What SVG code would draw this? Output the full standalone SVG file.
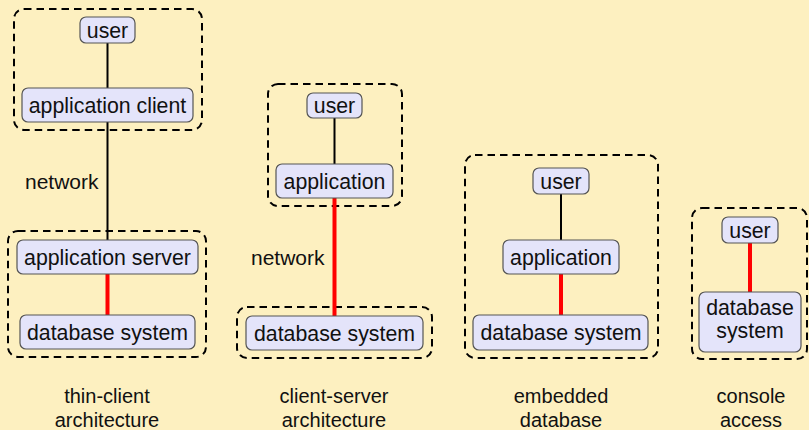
<svg xmlns="http://www.w3.org/2000/svg" width="809" height="430" viewBox="0 0 809 430">
<style>
.bg{fill:#FDF0C0}
.node rect{fill:#E4E4FA;stroke:#555;stroke-width:1.2}
.grp{fill:none;stroke:#000;stroke-width:2;stroke-dasharray:7.5 5}
text{font-family:"Liberation Sans",Arial,Helvetica,sans-serif;fill:#111}
.nt{font-size:21.3px;text-anchor:middle}
.lbl{font-size:21px}
.cap{font-size:20px;text-anchor:middle}
.blk{stroke:#000;stroke-width:2}
.red{stroke:#FF0000;stroke-width:4}
</style>
<rect class="bg" x="0" y="0" width="809" height="430"/>
<g id="groups">
<rect class="grp" x="14" y="9" width="188" height="121" rx="10"/>
<rect class="grp" x="8" y="231" width="198" height="126" rx="10"/>
<rect class="grp" x="268" y="84" width="134" height="122" rx="10"/>
<rect class="grp" x="237" y="307" width="195" height="51" rx="10"/>
<rect class="grp" x="465" y="155" width="193" height="203" rx="10"/>
<rect class="grp" x="692" y="208" width="115" height="151" rx="10"/>
</g>
<g id="connectors">
<line class="blk" x1="107.5" y1="43" x2="107.5" y2="88"/>
<line class="blk" x1="107.5" y1="122" x2="107.5" y2="240"/>
<line class="red" x1="107.5" y1="274" x2="107.5" y2="315"/>
<line class="blk" x1="334.5" y1="118" x2="334.5" y2="164"/>
<line class="red" x1="334.5" y1="198" x2="334.5" y2="316"/>
<line class="blk" x1="561" y1="194" x2="561" y2="240"/>
<line class="red" x1="561" y1="274" x2="561" y2="315"/>
<line class="red" x1="750" y1="243" x2="750" y2="292"/>
</g>
<g id="c1-user" class="node"><rect x="80" y="17" width="55" height="26" rx="6"/><text class="nt" x="107.5" y="37.5">user</text></g>
<g id="c1-appclient" class="node"><rect x="22" y="88" width="171" height="34" rx="6"/><text class="nt" x="107.5" y="112.5">application client</text></g>
<g id="c1-appserver" class="node"><rect x="17" y="240" width="181" height="34" rx="6"/><text class="nt" x="107.5" y="264.5">application server</text></g>
<g id="c1-db" class="node"><rect x="20" y="315" width="175" height="34" rx="6"/><text class="nt" x="107.5" y="339.5">database system</text></g>
<g id="c2-user" class="node"><rect x="307" y="93" width="55" height="25" rx="6"/><text class="nt" x="334.5" y="112.5">user</text></g>
<g id="c2-app" class="node"><rect x="276" y="164" width="117" height="34" rx="6"/><text class="nt" x="334.5" y="188.5">application</text></g>
<g id="c2-db" class="node"><rect x="246" y="316" width="177" height="34" rx="6"/><text class="nt" x="334.5" y="340.5">database system</text></g>
<g id="c3-user" class="node"><rect x="533" y="168" width="56" height="26" rx="6"/><text class="nt" x="561" y="188.5">user</text></g>
<g id="c3-app" class="node"><rect x="503" y="240" width="116" height="34" rx="6"/><text class="nt" x="561" y="264.5">application</text></g>
<g id="c3-db" class="node"><rect x="473" y="315" width="175" height="35" rx="6"/><text class="nt" x="561" y="339.5">database system</text></g>
<g id="c4-user" class="node"><rect x="722" y="217" width="56" height="26" rx="6"/><text class="nt" x="750" y="237.5">user</text></g>
<g id="c4-db" class="node"><rect x="699" y="292" width="102" height="60" rx="6"/><text class="nt" x="750" y="315">database</text><text class="nt" x="750" y="338">system</text></g>
<g id="labels">
<text class="lbl" x="25" y="189">network</text>
<text class="lbl" x="251" y="265">network</text>
<text class="cap" x="107" y="403">thin-client</text>
<text class="cap" x="107" y="427">architecture</text>
<text class="cap" x="334" y="403">client-server</text>
<text class="cap" x="334" y="427">architecture</text>
<text class="cap" x="561" y="403">embedded</text>
<text class="cap" x="561" y="427">database</text>
<text class="cap" x="751" y="403">console</text>
<text class="cap" x="751" y="427">access</text>
</g>
</svg>
